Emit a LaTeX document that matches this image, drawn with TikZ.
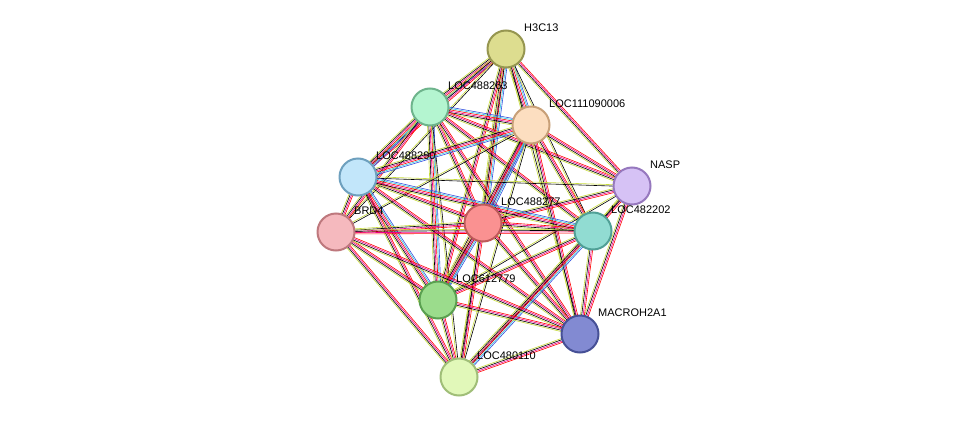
\documentclass[tikz,border=0pt]{standalone}
\usepackage{fontspec}
\setmainfont{Liberation Sans}
\usetikzlibrary{calc}
\definecolor{tm}{HTML}{C8DC3C}
\definecolor{db}{HTML}{30C8E0}
\definecolor{co}{HTML}{3050E0}
\tikzset{
  prot/.style={circle,minimum size=37pt,inner sep=0pt,line width=2pt},
  lab/.style={anchor=west,font=\fontsize{11}{13}\selectfont,inner sep=0pt},
  ln/.style={line width=0.6pt}
}
\newcommand\edgeset[3]{\foreach \c/\o in {#3}{\draw[ln,\c] ($(#1)!\o pt!90:(#2)$) -- ($(#2)!\o pt!-90:(#1)$);}}
\newcommand\ea[2]{\edgeset{#1}{#2}{tm/-2,black/-0.7,magenta/0.7,red/2}}
\newcommand\eb[2]{\edgeset{#1}{#2}{tm/-3.3,black/-2,magenta/-0.7,red/0.7,db/2,co/3.3}}
\newcommand\ec[2]{\edgeset{#1}{#2}{tm/-0.7,black/0.7}}
\begin{document}
\begin{tikzpicture}[x=1pt,y=-1pt]
\useasboundingbox[fill=white] (0,0) rectangle (976,423);
\coordinate (h3) at (506,49);
\coordinate (l263) at (430,107);
\coordinate (l006) at (531,125);
\coordinate (nasp) at (632,186);
\coordinate (l290) at (358,177);
\coordinate (l277) at (483,223);
\coordinate (l202) at (593,231);
\coordinate (brd4) at (336,232);
\coordinate (l779) at (438,300);
\coordinate (mac) at (580,334);
\coordinate (l110) at (459,377);
% edges
\eb{h3}{l263}\eb{h3}{l006}\ea{h3}{nasp}\ea{h3}{l290}\eb{h3}{l277}\ec{h3}{l202}\ec{h3}{brd4}\ea{h3}{l779}\ec{h3}{mac}\ec{h3}{l110}
\eb{l263}{l006}\ea{l263}{nasp}\eb{l263}{l290}\ea{l263}{l277}\ea{l263}{l202}\ea{l263}{brd4}\eb{l263}{l779}\ea{l263}{mac}\ec{l263}{l110}
\ea{l006}{nasp}\eb{l006}{l290}\eb{l006}{l277}\ea{l006}{l202}\ec{l006}{brd4}\eb{l006}{l779}\ea{l006}{mac}\ec{l006}{l110}
\ec{nasp}{l290}\ea{nasp}{l277}\ea{nasp}{l202}\ea{nasp}{mac}\ec{nasp}{l110}\ec{nasp}{l779}
\ea{l290}{l277}\eb{l290}{l202}\ea{l290}{brd4}\eb{l290}{l779}\ea{l290}{mac}\ea{l290}{l110}
\ea{l277}{l202}\ea{l277}{brd4}\eb{l277}{l779}\ea{l277}{mac}\ea{l277}{l110}
\ea{l202}{brd4}\ea{l202}{l779}\ea{l202}{mac}\eb{l202}{l110}
\ea{brd4}{l779}\ea{brd4}{mac}\ea{brd4}{l110}
\ea{l779}{mac}\ea{l779}{l110}
\ea{mac}{l110}
% nodes
\node[prot,fill={rgb,255:red,221;green,221;blue,143},draw={rgb,255:red,150;green,150;blue,80}] (nh3) at (h3) {};
\node[prot,fill={rgb,255:red,180;green,245;blue,208},draw={rgb,255:red,110;green,180;blue,140}] (n263) at (l263) {};
\node[prot,fill={rgb,255:red,252;green,222;blue,192},draw={rgb,255:red,200;green,160;blue,120}] (n006) at (l006) {};
\node[prot,fill={rgb,255:red,214;green,194;blue,245},draw={rgb,255:red,150;green,120;blue,190}] (nnasp) at (nasp) {};
\node[prot,fill={rgb,255:red,194;green,230;blue,250},draw={rgb,255:red,110;green,160;blue,190}] (n290) at (l290) {};
\node[prot,fill={rgb,255:red,250;green,145;blue,145},draw={rgb,255:red,190;green,90;blue,90}] (n277) at (l277) {};
\node[prot,fill={rgb,255:red,145;green,220;blue,210},draw={rgb,255:red,80;green,160;blue,150}] (n202) at (l202) {};
\node[prot,fill={rgb,255:red,245;green,185;blue,190},draw={rgb,255:red,190;green,120;blue,125}] (nbrd4) at (brd4) {};
\node[prot,fill={rgb,255:red,155;green,220;blue,140},draw={rgb,255:red,90;green,160;blue,80}] (n779) at (l779) {};
\node[prot,fill={rgb,255:red,130;green,138;blue,210},draw={rgb,255:red,70;green,80;blue,150}] (nmac) at (mac) {};
\node[prot,fill={rgb,255:red,225;green,248;blue,185},draw={rgb,255:red,160;green,190;blue,120}] (n110) at (l110) {};
% labels
\node[lab] (t1) at ($(h3)+(18,-21)$) {H3C13};
\node[lab] (t2) at ($(l263)+(18,-21)$) {LOC488263};
\node[lab] (t3) at ($(l006)+(18,-21)$) {LOC111090006};
\node[lab] (t4) at ($(nasp)+(18,-21)$) {NASP};
\node[lab] (t5) at ($(l290)+(18,-21)$) {LOC488290};
\node[lab] (t6) at ($(l277)+(18,-21)$) {LOC488277};
\node[lab] (t7) at ($(l202)+(18,-21)$) {LOC482202};
\node[lab] (t8) at ($(brd4)+(18,-21)$) {BRD4};
\node[lab] (t9) at ($(l779)+(18,-21)$) {LOC612779};
\node[lab] (t10) at ($(mac)+(18,-21)$) {MACROH2A1};
\node[lab] (t11) at ($(l110)+(18,-21)$) {LOC480110};
\end{tikzpicture}
\end{document}
